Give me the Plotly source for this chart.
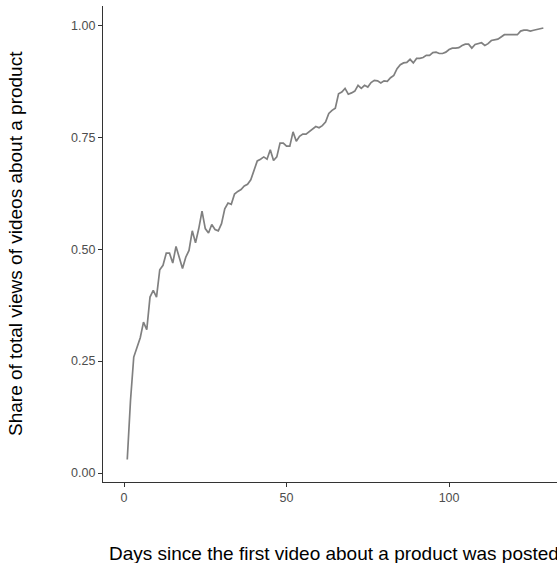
import plotly.graph_objects as go

days = list(range(1, 130))
share = [
    0.030, 0.162, 0.259, 0.281, 0.302, 0.337, 0.320, 0.393, 0.408, 0.393,
    0.454, 0.464, 0.491, 0.491, 0.469, 0.506, 0.484, 0.457, 0.482, 0.497,
    0.541, 0.514, 0.546, 0.585, 0.546, 0.536, 0.555, 0.544, 0.541, 0.557,
    0.590, 0.603, 0.600, 0.623, 0.629, 0.633, 0.641, 0.645, 0.655, 0.676,
    0.697, 0.701, 0.706, 0.701, 0.722, 0.698, 0.706, 0.737, 0.737, 0.730,
    0.730, 0.762, 0.741, 0.752, 0.757, 0.757, 0.763, 0.768, 0.774, 0.771,
    0.776, 0.784, 0.803, 0.810, 0.815, 0.847, 0.851, 0.859, 0.846, 0.849,
    0.853, 0.866, 0.859, 0.866, 0.862, 0.872, 0.877, 0.876, 0.871, 0.876,
    0.875, 0.883, 0.888, 0.903, 0.912, 0.916, 0.917, 0.924, 0.916, 0.926,
    0.926, 0.928, 0.933, 0.933, 0.939, 0.940, 0.937, 0.937, 0.940, 0.946,
    0.949, 0.949, 0.950, 0.955, 0.958, 0.958, 0.949, 0.957, 0.959, 0.961,
    0.955, 0.959, 0.966, 0.968, 0.969, 0.974, 0.979, 0.979, 0.979, 0.979,
    0.979, 0.987, 0.989, 0.989, 0.987, 0.989, 0.991, 0.993, 0.994,
]
x_ticks = [0, 50, 100]
y_ticks = [0.00, 0.25, 0.50, 0.75, 1.00]
y_tick_labels = ["0.00", "0.25", "0.50", "0.75", "1.00"]
x_title = "Days since the first video about a product was posted"
y_title = "Share of total views of videos about a product"

FONT = "Arial, 'Liberation Sans', sans-serif"

fig = go.Figure(go.Scatter(
    x=days, y=share, mode="lines",
    line=dict(color="#808080", width=1.7),
    hoverinfo="skip",
))

W, H = 557, 563
ml, mr, mt, mb = 103, 0, 6, 81

fig.update_layout(
    width=W, height=H,
    margin=dict(l=ml, r=mr, t=mt, b=mb, pad=0),
    paper_bgcolor="white", plot_bgcolor="white",
    showlegend=False,
    font=dict(family=FONT),
)
fig.update_xaxes(
    range=[-6.46, 133.2],
    tickvals=x_ticks, ticktext=[str(v) for v in x_ticks],
    showgrid=False, zeroline=False,
    showline=True, linecolor="#333333", linewidth=1.1,
    ticks="outside", ticklen=4, tickcolor="#333333", tickwidth=1,
    tickfont=dict(size=12.5, color="#4D4D4D", family=FONT),
)
fig.update_yaxes(
    range=[-0.0201, 1.0431],
    tickvals=y_ticks, ticktext=y_tick_labels,
    showgrid=False, zeroline=False,
    showline=True, linecolor="#333333", linewidth=1.1,
    ticks="outside", ticklen=4, tickcolor="#333333", tickwidth=1,
    tickfont=dict(size=12.5, color="#4D4D4D", family=FONT),
)

pw = W - ml - mr
ph = H - mt - mb
fig.add_annotation(
    text=x_title, xref="paper", yref="paper",
    x=(107 - ml) / pw, xanchor="left",
    y=-(553 - (H - mb)) / ph, yanchor="middle",
    showarrow=False, font=dict(size=19, color="black", family=FONT),
)
fig.add_annotation(
    text=y_title, xref="paper", yref="paper",
    x=(15 - ml) / pw, xanchor="center",
    y=0.5, yanchor="middle", textangle=-90,
    showarrow=False, font=dict(size=19, color="black", family=FONT),
)

fig.write_html(
    "out.html",
    config={"displayModeBar": False},
    post_script="document.body.style.margin='0';document.body.style.overflow='hidden';",
)
